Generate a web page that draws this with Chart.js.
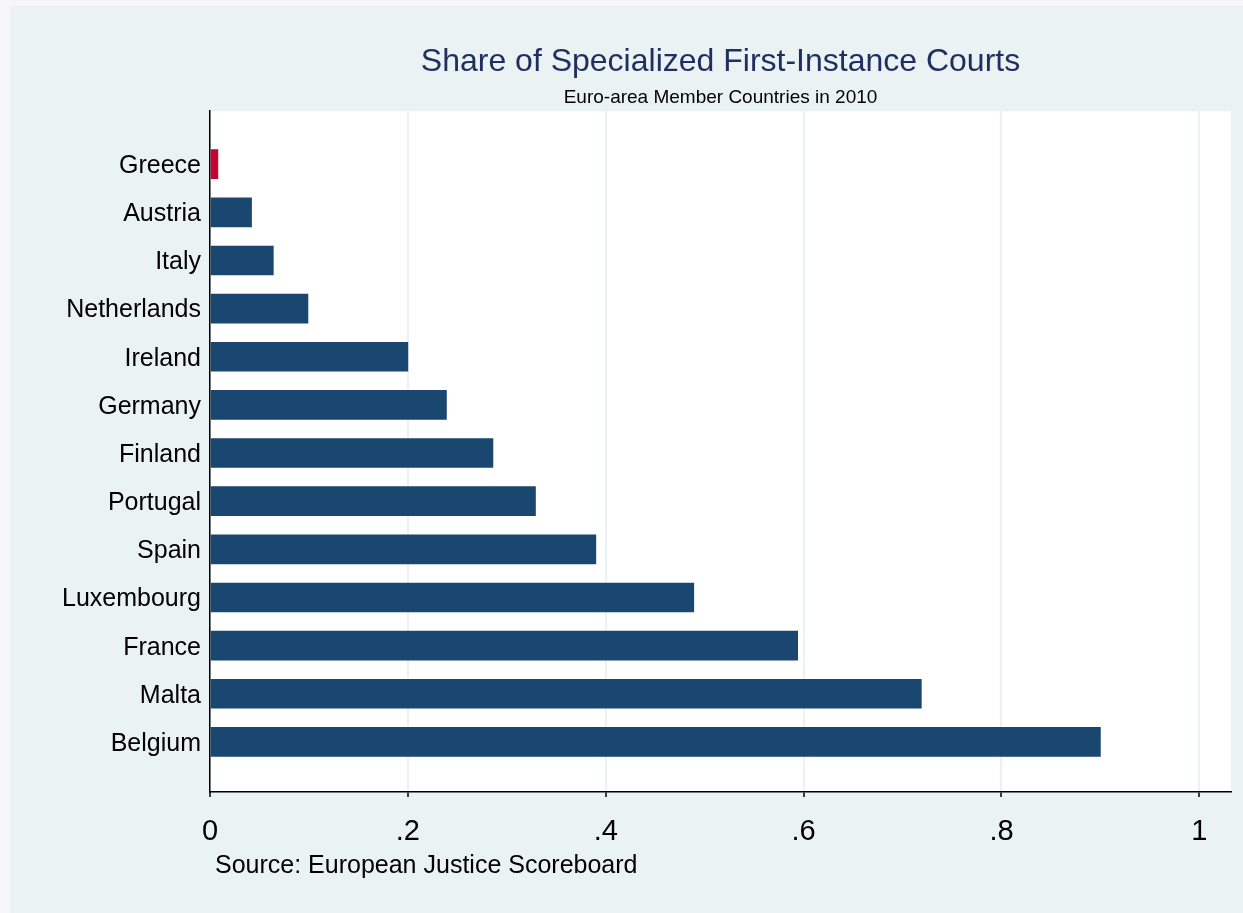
<!DOCTYPE html>
<html>
<head>
<meta charset="utf-8">
<script src="https://cdn.jsdelivr.net/npm/chart.js@4"></script>
<style>
  html, body { margin: 0; padding: 0; background: #f7f7f7; }
  #c { display: block; }
</style>
</head>
<body>
<canvas id="c" width="1243" height="913"></canvas>
<script>
// ---- data ----
const countries = ["Greece", "Austria", "Italy", "Netherlands", "Ireland", "Germany", "Finland",
                   "Portugal", "Spain", "Luxembourg", "France", "Malta", "Belgium"];
const shares = [0.008, 0.042, 0.064, 0.099, 0.200, 0.239, 0.286, 0.329, 0.390, 0.489, 0.594, 0.719, 0.900];
const tickValues = [0, 0.2, 0.4, 0.6, 0.8, 1];
const tickLabels = ["0", ".2", ".4", ".6", ".8", "1"];
const highlighted = "Greece";
const titleText = "Share of Specialized First-Instance Courts";
const subtitleText = "Euro-area Member Countries in 2010";
const sourceText = "Source: European Justice Scoreboard";

const FONT = "'Liberation Sans', Arial, Helvetica, sans-serif";

const bgPlugin = {
  id: 'bg',
  beforeDraw(chart) {
    const { ctx, chartArea: a } = chart;
    ctx.save();
    ctx.fillStyle = '#f7f7f7';
    ctx.fillRect(0, 0, chart.width, chart.height);
    ctx.fillStyle = '#eaf2f3';
    ctx.fillRect(10, 6, chart.width - 10, chart.height - 6);
    ctx.fillStyle = '#ffffff';
    ctx.fillRect(a.left, a.top, a.right - a.left, a.bottom - a.top);
    ctx.restore();
  },
  afterDraw(chart) {
    const { ctx } = chart;
    ctx.save();
    ctx.fillStyle = '#000000';
    ctx.font = "25px " + FONT;
    ctx.textBaseline = 'middle';
    ctx.textAlign = 'left';
    ctx.fillText(sourceText, 215, 866);
    ctx.restore();
  }
};

new Chart(document.getElementById('c'), {
  type: 'bar',
  data: {
    datasets: [{
      data: countries.map((c, i) => ({ x: shares[i], y: i })),
      backgroundColor: countries.map(c => c === highlighted ? '#c10534' : '#1a476f'),
      borderWidth: 0,
      barThickness: 29
    }]
  },
  options: {
    indexAxis: 'y',
    responsive: false,
    animation: false,
    devicePixelRatio: 1,
    layout: { padding: { top: 6, left: 10, right: 12, bottom: 0 } },
    plugins: {
      legend: { display: false },
      tooltip: { enabled: false },
      title: {
        display: true,
        text: titleText,
        fullSize: false,
        color: '#1f3060',
        font: { family: FONT, size: 32, weight: 'normal', lineHeight: 1.2 },
        padding: { top: 37, bottom: 0 }
      },
      subtitle: {
        display: true,
        text: subtitleText,
        fullSize: false,
        color: '#000000',
        font: { family: FONT, size: 19, weight: 'normal', lineHeight: 1.2 },
        padding: { top: 5, bottom: 2 }
      }
    },
    scales: {
      x: {
        type: 'linear',
        position: 'bottom',
        min: 0,
        max: 1.032,
        afterFit(s) { s.height = 121; },
        afterBuildTicks(s) { s.ticks = tickValues.map(v => ({ value: v })); },
        grid: {
          display: true,
          color: '#eaf2f3',
          lineWidth: 2,
          drawTicks: true,
          tickLength: 5,
          tickColor: '#000000',
          tickWidth: 1.5
        },
        border: { display: true, color: '#000000', width: 1.5 },
        ticks: {
          color: '#000000',
          padding: 18,
          maxRotation: 0,
          font: { family: FONT, size: 29 },
          callback: (v) => { const k = tickValues.findIndex(t => Math.abs(t - v) < 1e-9); return k >= 0 ? tickLabels[k] : ''; }
        }
      },
      y: {
        type: 'linear',
        reverse: true,
        offset: false,
        min: -1.1,
        max: 13.04,
        afterFit(s) { s.width = 200; },
        afterBuildTicks(s) { s.ticks = countries.map((c, i) => ({ value: i })); },
        grid: { display: false, drawTicks: false, tickLength: 0, offset: false },
        border: { display: true, color: '#000000', width: 1.5 },
        ticks: {
          color: '#000000',
          padding: 9,
          labelOffset: 2,
          font: { family: FONT, size: 25 },
          callback: (v) => countries[Math.round(v)] || ''
        }
      }
    }
  },
  plugins: [bgPlugin]
});
</script>
</body>
</html>
